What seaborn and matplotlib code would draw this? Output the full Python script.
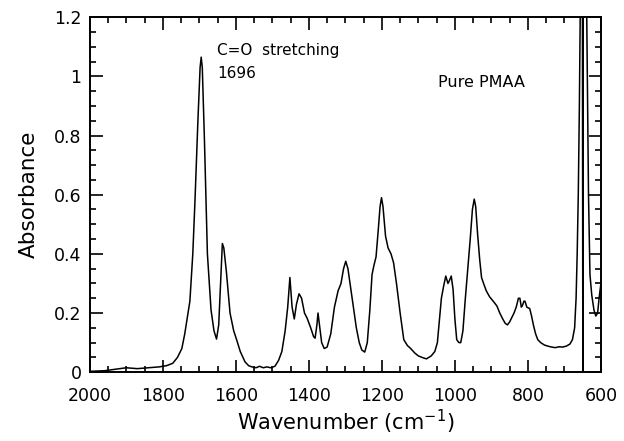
import numpy as np
import pandas as pd
import seaborn as sns
import matplotlib.pyplot as plt
from matplotlib.ticker import MultipleLocator

# FTIR spectrum of pure PMAA
wavenumber = [2000, 1960, 1930, 1900, 1870, 1840, 1810, 1790, 1773, 1760,
              1748, 1740, 1735, 1726, 1718, 1712, 1704, 1698, 1695, 1692,
              1686, 1678, 1668, 1660, 1653, 1647, 1642, 1637, 1633, 1626,
              1616, 1606, 1598, 1588, 1575, 1565, 1556, 1545, 1535, 1525,
              1515, 1505, 1493, 1483, 1474, 1465, 1458, 1452, 1446, 1440,
              1434, 1427, 1420, 1412, 1405, 1395, 1387, 1383, 1378, 1375,
              1371, 1365, 1358, 1350, 1340, 1330, 1320, 1312, 1305, 1299,
              1293, 1285, 1278, 1270, 1262, 1255, 1247, 1240, 1233, 1227,
              1222, 1216, 1210, 1205, 1201, 1197, 1190, 1183, 1175, 1168,
              1160, 1150, 1140, 1130, 1121, 1110, 1100, 1090, 1078, 1065,
              1055, 1048, 1042, 1037, 1031, 1025, 1019, 1015, 1010, 1005,
              1000, 995, 989, 984, 978, 972, 966, 958, 952, 947,
              943, 938, 932, 927, 920, 914, 905, 895, 885, 877,
              869, 862, 856, 850, 844, 838, 832, 826, 822, 818,
              815, 811, 808, 803, 795, 790, 785, 779, 773, 765,
              755, 745, 735, 725, 715, 705, 695, 685, 678, 672,
              668, 665, 662, 659, 656, 653, 651, 649.5, 648, 642,
              638, 634, 630, 625, 619, 614, 609, 605, 600]
absorbance = [0.003, 0.005, 0.01, 0.015, 0.012, 0.015, 0.018, 0.022, 0.03, 0.05,
              0.08, 0.13, 0.17, 0.24, 0.40, 0.58, 0.85, 1.03, 1.065, 1.03,
              0.78, 0.40, 0.21, 0.14, 0.112, 0.16, 0.30, 0.435, 0.42, 0.34,
              0.20, 0.14, 0.11, 0.07, 0.035, 0.022, 0.018, 0.015, 0.02, 0.015,
              0.018, 0.015, 0.02, 0.04, 0.07, 0.14, 0.22, 0.32, 0.22, 0.18,
              0.23, 0.265, 0.25, 0.20, 0.183, 0.15, 0.12, 0.115, 0.16, 0.20,
              0.16, 0.10, 0.08, 0.085, 0.13, 0.22, 0.275, 0.30, 0.35, 0.375,
              0.35, 0.28, 0.22, 0.15, 0.10, 0.075, 0.068, 0.10, 0.21, 0.33,
              0.36, 0.39, 0.48, 0.56, 0.59, 0.56, 0.46, 0.42, 0.40, 0.37,
              0.30, 0.20, 0.11, 0.09, 0.08, 0.065, 0.055, 0.05, 0.045, 0.055,
              0.07, 0.10, 0.18, 0.25, 0.29, 0.325, 0.30, 0.31, 0.325, 0.28,
              0.18, 0.11, 0.10, 0.10, 0.14, 0.24, 0.33, 0.45, 0.55, 0.585,
              0.56, 0.47, 0.38, 0.32, 0.295, 0.275, 0.255, 0.24, 0.224, 0.20,
              0.18, 0.165, 0.16, 0.17, 0.185, 0.20, 0.22, 0.25, 0.25, 0.22,
              0.225, 0.24, 0.24, 0.22, 0.215, 0.19, 0.16, 0.13, 0.11, 0.10,
              0.092, 0.088, 0.085, 0.083, 0.086, 0.085, 0.088, 0.095, 0.11, 0.15,
              0.25, 0.40, 0.60, 0.90, 1.30, 1.60, 1.60, -0.02, 1.60, 1.60,
              1.10, 0.60, 0.33, 0.26, 0.21, 0.19, 0.20, 0.25, 0.30]

y_ticks = [0, 0.2, 0.4, 0.6, 0.8, 1.0, 1.2]
y_ticklabels = ["0", "0.2", "0.4", "0.6", "0.8", "1", "1.2"]

spec = pd.DataFrame({"wavenumber": wavenumber, "absorbance": absorbance})

sns.set_style("ticks")
plt.rcParams["font.family"] = ["DejaVu Sans"]
plt.rcParams["text.color"] = "black"
plt.rcParams["axes.labelcolor"] = "black"

fig = plt.figure(figsize=(6.24, 4.41), dpi=100)
ax = fig.add_axes([0.144, 0.156, 0.819, 0.805])

sns.lineplot(data=spec, x="wavenumber", y="absorbance", color="black",
             linewidth=1.1, estimator=None, ax=ax)

ax.set_xlim(2000, 600)
ax.set_ylim(0, 1.2)
ax.xaxis.set_major_locator(MultipleLocator(200))
ax.xaxis.set_minor_locator(MultipleLocator(50))
ax.yaxis.set_minor_locator(MultipleLocator(0.05))
ax.set_yticks(y_ticks)
ax.set_yticklabels(y_ticklabels)

ax.tick_params(which="both", direction="in", top=True, right=True,
               width=1.2, labelsize=12.5, colors="black")
ax.tick_params(axis="x", which="major", length=9, pad=11)
ax.tick_params(axis="y", which="major", length=9, pad=6)
ax.tick_params(which="minor", length=4.5)
for s in ax.spines.values():
    s.set_linewidth(1.4)
    s.set_color("black")

ax.set_xlabel("Wavenumber (cm$^{-1}$)", fontsize=15, labelpad=2)
ax.set_ylabel("Absorbance", fontsize=15.5, labelpad=11)

ax.text(1652, 1.088, "C=O  stretching", fontsize=11, va="center", ha="left", color="black")
ax.text(1652, 1.011, "1696", fontsize=11, va="center", ha="left", color="black")
ax.text(1047, 0.98, "Pure PMAA", fontsize=11.5, va="center", ha="left", color="black")

fig.savefig("out.png", dpi=100)
